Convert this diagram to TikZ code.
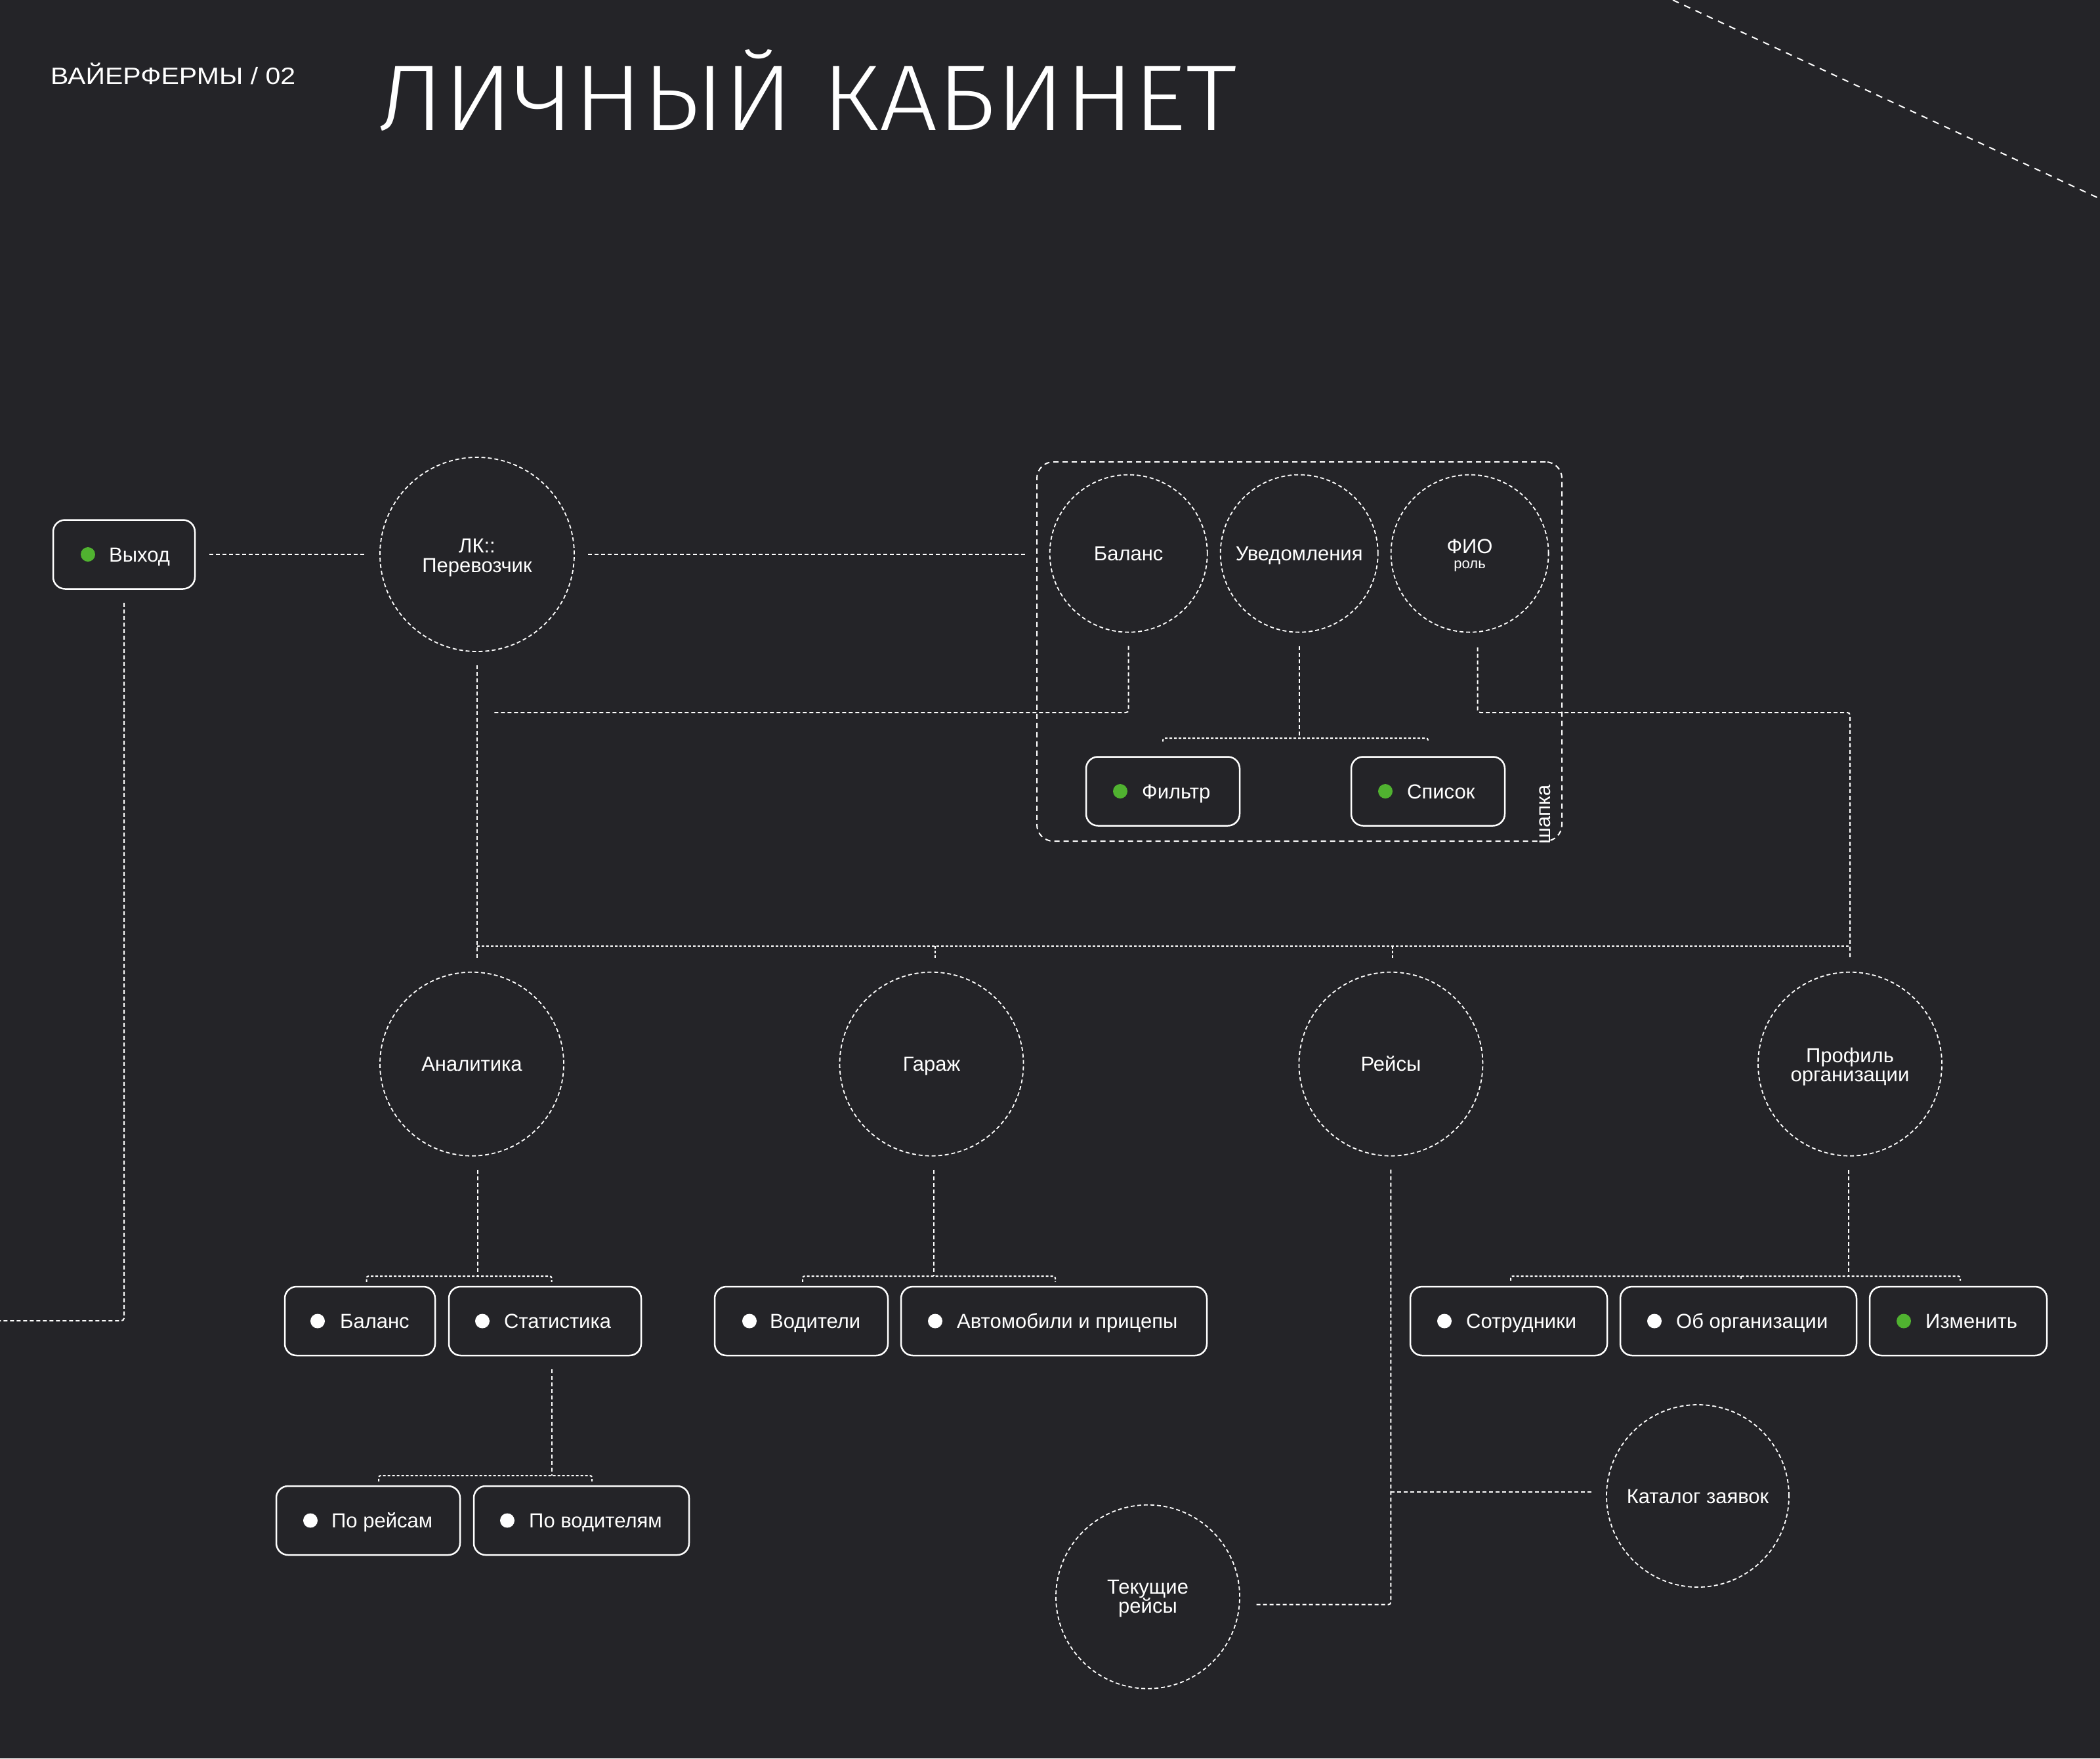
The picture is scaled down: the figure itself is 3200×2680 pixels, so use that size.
\documentclass[tikz,border=0pt]{standalone}
\usepackage{fontspec}
\usepackage{graphicx}
\setmainfont{Liberation Sans}
\newfontfamily\titlefont{Fira Sans Light}
\usetikzlibrary{calc}
\definecolor{bg}{RGB}{36,36,40}
\definecolor{grn}{RGB}{80,178,48}
\tikzset{
  conn/.style={draw=white, line width=2pt, dash pattern=on 6pt off 4pt, rounded corners=4pt},
  busl/.style={draw=white, line width=2pt, dash pattern=on 4pt off 3pt, rounded corners=3pt},
  circ/.style={circle, draw=white, line width=1.8pt, dash pattern=on 6pt off 4pt, minimum size=#1, inner sep=0pt},
  pill/.style={draw=white, line width=2.5pt, rounded corners=18pt, inner sep=0pt, minimum height=105pt},
  dotw/.style={circle, fill=white, minimum size=22pt, inner sep=0pt},
  dotg/.style={circle, fill=grn, minimum size=22pt, inner sep=0pt},
  lbl/.style={text=white, font=\fontsize{31}{31}\selectfont, inner sep=0pt},
}
\newcommand\mkbox[8]{%
  \node[pill, minimum width={#3-#2}] (#1) at ({(#2+#3)/2},#4) {};
  \node[#5] (#1-d) at (#6,#4) {};
  \node[lbl, anchor=base west] (#1-t) at (#7,#4+11) {#8};
}
\newcommand\mkbracket[5]{%
  \draw[busl] ([xshift=#5, yshift=#4]#1.north) -- ([xshift=#5]#1.north |- #3) -- ([xshift=#5]#2.north |- #3) -- ([xshift=#5, yshift=#4]#2.north);
}
\begin{document}
\begin{tikzpicture}[x=1pt, y=-1pt]
\useasboundingbox (0,0) rectangle (3200,2680);
\fill[bg] (0,0) rectangle (3200,2680);

% header
\node[anchor=base west, inner sep=0pt, text=white] (hdr) at (77,128)
  {\resizebox{373pt}{\height}{\fontsize{36}{36}\selectfont ВАЙЕРФЕРМЫ / 02}};
\node[anchor=base west, inner sep=0pt, text=white] (ttl) at (575,198)
  {\resizebox{1310pt}{\height}{\titlefont\fontsize{142}{142}\selectfont ЛИЧНЫЙ КАБИНЕТ}};

% diagonal
\coordinate (dA) at (2549,0);
\coordinate (dB) at (3200,303);
\draw[white, line width=2pt, dash pattern=on 10pt off 9pt] (dA) -- (dB);

% helper coordinates
\coordinate (edgeL) at (0,2013);
\coordinate (busY) at (0,1442);
\coordinate (yB) at (0,1086);
\coordinate (yC) at (0,1125);
\coordinate (yD) at (0,1945);
\coordinate (yE) at (0,2249);

% header group box
\node[draw=white, line width=2pt, dash pattern=on 8pt off 6pt, rounded corners=25pt,
      minimum width=800pt, minimum height=578pt, inner sep=0pt] (shapka) at (1980,993) {};
\node[lbl, rotate=90, anchor=base west] (shtxt) at (2362,1287) {шапка};

% circles
\node[circ=296pt] (lk) at (727,845) {};
\node[lbl, anchor=base] (lk-a) at (727,842) {ЛК::};
\node[lbl, anchor=base] (lk-b) at (727,872) {Перевозчик};

\node[circ=240pt] (cbal) at (1719.7,843.6) {};
\node[lbl, anchor=base] (cbal-t) at (1719.7,854.6) {Баланс};
\node[circ=240pt] (cuv) at (1979.7,843.6) {};
\node[lbl, anchor=base] (cuv-t) at (1979.7,854.6) {Уведомления};
\node[circ=240pt] (cfio) at (2239.6,843.6) {};
\node[lbl, anchor=base] (cfio-a) at (2239.6,843) {ФИО};
\node[lbl, anchor=base, font=\fontsize{22}{22}\selectfont] (cfio-b) at (2239.6,866) {роль};

\node[circ=280pt] (anal) at (719,1621.7) {};
\node[lbl, anchor=base] (anal-t) at (719,1632.7) {Аналитика};
\node[circ=280pt] (gar) at (1419.5,1621.7) {};
\node[lbl, anchor=base] (gar-t) at (1419.5,1632.7) {Гараж};
\node[circ=280pt] (reis) at (2119.4,1621.7) {};
\node[lbl, anchor=base] (reis-t) at (2119.4,1632.7) {Рейсы};
\node[circ=280pt] (prof) at (2819,1621.7) {};
\node[lbl, anchor=base] (prof-a) at (2819,1619) {Профиль};
\node[lbl, anchor=base] (prof-b) at (2819,1648) {организации};

\node[circ=280pt] (tek) at (1749,2433.7) {};
\node[lbl, anchor=base] (tek-a) at (1749,2429) {Текущие};
\node[lbl, anchor=base] (tek-b) at (1749,2458) {рейсы};
\node[circ=278pt] (kat) at (2587,2280) {};
\node[lbl, anchor=base] (kat-t) at (2587,2291) {Каталог заявок};

% boxes
\mkbox{vyhod}{81}{297}{845}{dotg}{134}{166}{Выход}
\mkbox{filt}{1655}{1889}{1206}{dotg}{1707}{1740}{Фильтр}
\mkbox{spis}{2059}{2293}{1206}{dotg}{2111}{2144}{Список}
\mkbox{bal2}{434}{663}{2013.5}{dotw}{484}{518}{Баланс}
\mkbox{stat}{684}{977}{2013.5}{dotw}{735}{768}{Статистика}
\mkbox{vod}{1089}{1353}{2013.5}{dotw}{1142}{1173}{Водители}
\mkbox{avto}{1373}{1839}{2013.5}{dotw}{1425}{1458}{Автомобили и прицепы}
\mkbox{sotr}{2149}{2449}{2013.5}{dotw}{2201}{2234}{Сотрудники}
\mkbox{ob}{2469}{2829}{2013.5}{dotw}{2521}{2554}{Об организации}
\mkbox{izm}{2849}{3119}{2013.5}{dotg}{2901}{2934}{Изменить}
\mkbox{porei}{421}{701}{2317.5}{dotw}{473}{505}{По рейсам}
\mkbox{povod}{722}{1050}{2317.5}{dotw}{773}{806}{По водителям}

% connectors
\draw[conn] ([xshift=21pt]vyhod.east) -- ([xshift=-20pt]lk.west);
\draw[conn] ([xshift=20pt]lk.east) -- ([xshift=-17pt]shapka.west |- lk.east);
\draw[conn] ([yshift=-20pt]vyhod.south) |- (edgeL);
\draw[conn] ([yshift=-20pt]lk.south) -- ([yshift=20pt]lk.south |- anal.north);
\draw[conn] ([yshift=-20pt]cbal.south) |- ([xshift=23pt]lk.south |- yB);
\draw[conn] ([xshift=12pt,yshift=-22pt]cfio.south) |- (prof.north |- yB) -- ([yshift=20pt]prof.north);
\draw[conn] ([yshift=-20pt]cuv.south) -- (cuv.south |- yC);
\mkbracket{filt}{spis}{yC}{22pt}{0pt}

% main bus
\draw[busl] (lk.south |- busY) -- (prof.north |- busY);
\draw[busl] ([xshift=5pt]gar.north |- busY) -- ([xshift=5pt,yshift=20pt]gar.north);
\draw[busl] ([xshift=3pt]reis.north |- busY) -- ([xshift=3pt,yshift=20pt]reis.north);

% second level
\draw[conn] ([xshift=9pt,yshift=-20pt]anal.south) -- ([xshift=9pt]anal.south |- yD);
\mkbracket{bal2}{stat}{yD}{6pt}{10pt}
\draw[conn] ([xshift=3pt,yshift=-20pt]gar.south) -- ([xshift=3pt]gar.south |- yD);
\mkbracket{vod}{avto}{yD}{6pt}{2pt}
\draw[conn] ([xshift=-2pt,yshift=-20pt]prof.south) -- ([xshift=-2pt]prof.south |- yD);
\mkbracket{sotr}{izm}{yD}{8pt}{3pt}
\draw[busl] ([xshift=4pt]ob.north |- yD) -- ([xshift=4pt,yshift=8pt]ob.north);
\draw[conn] ([xshift=10pt,yshift=-20pt]stat.south) -- ([xshift=10pt]stat.south |- yE);
\mkbracket{porei}{povod}{yE}{6pt}{16pt}

% trips
\draw[conn] ([yshift=-20pt]reis.south) |- ([xshift=22pt,yshift=-12pt]tek.east);
\draw[conn] ([yshift=6pt]reis.south |- kat.west) -- ([xshift=-22pt,yshift=6pt]kat.west);
\end{tikzpicture}
\end{document}
